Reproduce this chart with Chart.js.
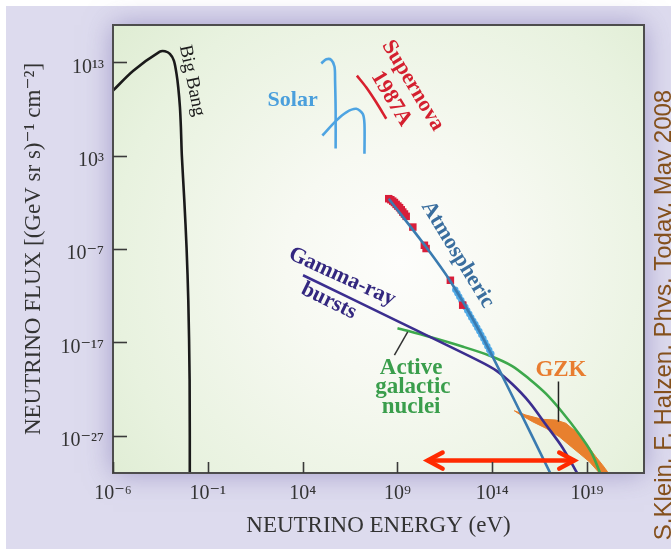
<!DOCTYPE html>
<html><head><meta charset="utf-8">
<script src="https://cdn.jsdelivr.net/npm/chart.js@4.4.1/dist/chart.umd.min.js"></script>
<style>html,body{margin:0;padding:0;background:#fff;}#wrap{width:671px;height:557px;position:relative;}</style>
</head><body><div id="wrap"><canvas id="c" width="671" height="557"></canvas></div>
<script>
// ---- data (log10 of energy in eV, log10 of flux) ----
const xTickExps = [-6, -1, 4, 9, 14, 19];
const yTickExps = [-27, -17, -7, 3, 13];

const bigBangE = [-6, -4.93, -3.53, -3.26, -3.0, -2.79, -2.65, -2.56, -2.47, -2.42, -2.37, -2.24, -2.12, -2.03, -1.96, -1.95];
const bigBangF = [9.97, 12.1, 14.14, 14.18, 13.9, 13.18, 11.76, 10.33, 8.19, 6.05, 3.02, -1.79, -6.92, -12.49, -21.0, -33];

const solarAE = [4.98, 5.25, 5.51, 5.68, 5.71, 5.74, 5.74];
const solarAF = [12.89, 13.32, 13.26, 12.54, 11.04, 7.83, 3.77];
const solarBE = [5.04, 5.77, 6.3, 6.83, 7.17, 7.26, 7.26];
const solarBF = [5.16, 6.76, 7.65, 8.02, 7.48, 6.41, 3.2];

const supernovaE = [6.86, 7.35, 7.88, 8.41];
const supernovaF = [11.58, 10.33, 8.72, 6.95];

const atmoE = [8.54, 10.51, 11.79, 13.32, 15.16, 17.15];
const atmoF = [-1.61, -6.79, -10.46, -15.8, -23.18, -31.4];
const atmoRedE = [8.54, 8.65, 8.75, 8.84, 8.93, 9.02, 9.11, 9.2, 9.28, 9.37, 9.46, 9.81, 10.42, 10.51, 11.79, 12.44];
const atmoRedF = [-1.61, -1.72, -1.87, -2.02, -2.22, -2.4, -2.57, -2.8, -3.04, -3.25, -3.5, -4.65, -6.6, -6.95, -10.35, -13.02];
const atmoBlueE = [12.05, 12.16, 12.26, 12.37, 12.47, 12.58, 12.68, 12.79, 12.89, 13.0, 13.11, 13.21, 13.32, 13.42, 13.53, 13.63, 13.74, 13.84, 13.95];
const atmoBlueF = [-11.37, -11.74, -12.11, -12.48, -12.85, -13.22, -13.59, -13.96, -14.33, -14.7, -15.06, -15.43, -15.8, -16.2, -16.59, -17.0, -17.41, -17.81, -18.21];

const grbE = [4.02, 9.11, 13.32, 14.21, 15.05, 15.95, 16.84, 17.68, 18.47, 18.55];
const grbF = [-9.81, -14.84, -19.01, -20.03, -21.47, -23.4, -25.86, -28.21, -30.99, -31.4];

const agnE = [9.0, 10.68, 12.42, 13.84, 15.05, 15.95, 16.84, 17.68, 18.58, 19.21, 19.68, 19.74];
const agnF = [-15.48, -16.41, -17.45, -18.41, -19.54, -20.93, -22.53, -24.46, -26.81, -28.73, -30.98, -31.4];

const gzkE = [15.16, 15.77, 16.65, 17.35, 17.88, 18.41, 18.93, 19.46, 19.81, 20.07, 20.15, 19.72, 19.63, 19.11, 18.58, 18.05, 17.53, 16.83, 16.12, 15.42, 15.16];
const gzkF = [-24.33, -24.79, -25.25, -25.32, -25.67, -26.57, -27.81, -29.25, -30.13, -30.85, -31.3, -31.3, -30.96, -29.78, -28.88, -27.99, -27.11, -26.21, -25.5, -24.68, -24.33];

const agnPointerE = [8.84, 9.54];
const agnPointerF = [-18.37, -15.87];
const gzkPointerE = [17.49, 17.49];
const gzkPointerF = [-21.2, -25.5];

const arrowE = [10.59, 18.32];
const arrowF = [-29.67, -29.67];
const arrowHeadLE = [11.38, 10.59, 11.38];
const arrowHeadRE = [17.53, 18.32, 17.53];
const arrowHeadF = [-28.81, -29.67, -30.53];

// ---- helpers ----
const SUP = {'-':'\u207B','0':'\u2070','1':'\u00B9','2':'\u00B2','3':'\u00B3','4':'\u2074','5':'\u2075','6':'\u2076','7':'\u2077','8':'\u2078','9':'\u2079'};
const pow10 = e => '10' + String(e).split('').map(c => SUP[c]).join('');
const pts = (E, F) => E.map((e, i) => ({x: e, y: F[i]}));
const SERIF = "'Liberation Serif', 'DejaVu Serif', serif";

const labels = [
  {t:'Big Bang', e:-1.84, f:11.04, rot:78.5, font:'19px '+SERIF, c:'#1c1c1c'},
  {t:'Solar', e:3.47, f:8.9, rot:0, font:'bold 22px '+SERIF, c:'#4a9fdc'},
  {t:'Supernova', e:9.81, f:10.51, rot:59, font:'bold 22px '+SERIF, c:'#d4202f'},
  {t:'1987A', e:8.67, f:9.09, rot:59, font:'bold 22px '+SERIF, c:'#d4202f'},
  {t:'Atmospheric', e:12.17, f:-7.59, rot:58.5, font:'bold 22px '+SERIF, c:'#3a6e9e'},
  {t:'Gamma-ray', e:6.08, f:-9.99, rot:24.5, font:'bold 22px '+SERIF, c:'#33277f'},
  {t:'bursts', e:5.38, f:-12.57, rot:26, font:'bold 22px '+SERIF, c:'#33277f'},
  {t:'Active', e:9.72, f:-19.75, rot:0, font:'bold 23px '+SERIF, c:'#3a9e4c'},
  {t:'galactic', e:9.81, f:-21.8, rot:0, font:'bold 23px '+SERIF, c:'#3a9e4c'},
  {t:'nuclei', e:9.72, f:-23.95, rot:0, font:'bold 23px '+SERIF, c:'#3a9e4c'},
  {t:'GZK', e:17.62, f:-19.96, rot:0, font:'bold 23px '+SERIF, c:'#e87d30'}
];

const bgPlugin = {
  id: 'bg',
  beforeDraw(chart) {
    const {ctx, chartArea: a, width, height} = chart;
    ctx.save();
    ctx.fillStyle = '#ffffff'; ctx.fillRect(0, 0, width, height);
    ctx.fillStyle = '#dddbee'; ctx.fillRect(6, 6, width - 6, 543);
    ctx.shadowColor = 'rgba(120,110,175,0.6)'; ctx.shadowBlur = 26;
    ctx.fillStyle = '#e4efda'; ctx.fillRect(a.left, a.top, a.width, a.height);
    ctx.shadowColor = 'transparent'; ctx.shadowBlur = 0;
    const cx = a.left + a.width * 0.54, cy = a.top + a.height * 0.53;
    const g = ctx.createRadialGradient(cx, cy, 0, cx, cy, 380);
    g.addColorStop(0, '#fdfdfb'); g.addColorStop(0.3, '#f7f9f2'); g.addColorStop(0.75, '#e8f2df'); g.addColorStop(1, '#deecd2');
    ctx.fillStyle = g; ctx.fillRect(a.left, a.top, a.width, a.height);
    ctx.restore();
  },
  afterDraw(chart) {
    const {ctx, chartArea: a, scales: {x, y}} = chart;
    ctx.save();
    labels.forEach(l => {
      ctx.save();
      ctx.translate(x.getPixelForValue(l.e), y.getPixelForValue(l.f));
      ctx.rotate(l.rot * Math.PI / 180);
      ctx.font = l.font; ctx.fillStyle = l.c; ctx.textAlign = 'center'; ctx.textBaseline = 'middle';
      ctx.fillText(l.t, 0, 0);
      ctx.restore();
    });
    ctx.strokeStyle = '#4d4d4d'; ctx.lineWidth = 2;
    ctx.strokeRect(a.left, a.top, a.width, a.height);
    ctx.strokeStyle = '#3a3a3a'; ctx.lineWidth = 1.6;
    xTickExps.forEach(v => { const px = Math.round(x.getPixelForValue(v)) + 0.5; ctx.beginPath(); ctx.moveTo(px, a.bottom); ctx.lineTo(px, a.bottom - 11); ctx.stroke(); });
    yTickExps.forEach(v => { const py = Math.round(y.getPixelForValue(v)) + 0.5; ctx.beginPath(); ctx.moveTo(a.left, py); ctx.lineTo(a.left + 14, py); ctx.stroke(); });
    ctx.save();
    ctx.translate(671, 315); ctx.rotate(-Math.PI / 2);
    ctx.font = "24px 'Liberation Sans', Arial, sans-serif"; ctx.fillStyle = '#84501c';
    ctx.textAlign = 'center'; ctx.textBaseline = 'alphabetic';
    ctx.fillText('S.Klein, F. Halzen, Phys. Today, May 2008', 0, 0);
    ctx.restore();
    ctx.restore();
  }
};

const lineDs = (label, E, F, color, width, order, extra) => Object.assign({
  label, data: pts(E, F), showLine: true, borderColor: color, backgroundColor: color,
  borderWidth: width, pointRadius: 0, tension: 0.3, fill: false, order
}, extra || {});

const datasets = [
  lineDs('GZK', gzkE, gzkF, '#e8802e', 1, 9, {fill: 'shape', backgroundColor: '#e8802e', tension: 0}),
  lineDs('Big Bang', bigBangE, bigBangF, '#1a1a1a', 2.6, 5),
  lineDs('Solar', solarAE, solarAF, '#4ea4e2', 2.6, 5),
  lineDs('Solar 2', solarBE, solarBF, '#4ea4e2', 2.6, 5),
  lineDs('Supernova 1987A', supernovaE, supernovaF, '#d8202e', 2.6, 5),
  lineDs('AGN', agnE, agnF, '#3da84c', 2.6, 6),
  lineDs('Gamma-ray bursts', grbE, grbF, '#3b2e8f', 2.6, 5),
  {label: 'Atmospheric data', data: pts(atmoRedE, atmoRedF), showLine: false, pointStyle: 'rect', pointRadius: 5.3, backgroundColor: '#d81e3a', borderColor: '#d81e3a', borderWidth: 0, order: 4},
  {label: 'Atmospheric data 2', data: pts(atmoBlueE, atmoBlueF), showLine: false, pointStyle: 'circle', pointRadius: 3.2, backgroundColor: '#4fa9e6', borderColor: '#4fa9e6', borderWidth: 0, order: 4},
  lineDs('Atmospheric', atmoE, atmoF, '#3a7bb0', 2.6, 3),
  lineDs('AGN pointer', agnPointerE, agnPointerF, '#333333', 1.5, 2, {tension: 0}),
  lineDs('GZK pointer', gzkPointerE, gzkPointerF, '#222222', 1.5, 2, {tension: 0}),
  lineDs('arrow', arrowE, arrowF, '#ff2a00', 4.5, 1, {tension: 0}),
  lineDs('arrow L', arrowHeadLE, arrowHeadF, '#ff2a00', 4.5, 1, {tension: 0, borderCapStyle: 'round'}),
  lineDs('arrow R', arrowHeadRE, arrowHeadF, '#ff2a00', 4.5, 1, {tension: 0, borderCapStyle: 'round'})
];

new Chart(document.getElementById('c'), {
  type: 'scatter',
  data: {datasets},
  plugins: [bgPlugin],
  options: {
    responsive: false, animation: false, devicePixelRatio: 1,
    layout: {padding: {top: 25, right: 27, left: 0, bottom: 0}},
    plugins: {legend: {display: false}, tooltip: {enabled: false}},
    scales: {
      x: {
        type: 'linear', min: -6, max: 22,
        afterBuildTicks: s => { s.ticks = xTickExps.map(v => ({value: v})); },
        afterFit: s => { s.height = 84; },
        grid: {display: false, drawTicks: false}, border: {display: false},
        ticks: {autoSkip: false, maxRotation: 0, padding: 9, color: '#333', font: {family: SERIF, size: 20}, callback: v => pow10(v)},
        title: {display: true, text: 'NEUTRINO ENERGY (eV)', color: '#333', font: {family: SERIF, size: 23}, padding: {top: 0, bottom: 17}}
      },
      y: {
        type: 'linear', min: -31, max: 17,
        afterBuildTicks: s => { s.ticks = yTickExps.map(v => ({value: v})); },
        afterFit: s => { s.width = 113; },
        grid: {display: false, drawTicks: false}, border: {display: false},
        ticks: {autoSkip: false, padding: 9, labelOffset: 5, color: '#333', font: {family: SERIF, size: 20}, callback: v => pow10(v)},
        title: {display: true, text: 'NEUTRINO FLUX [(GeV sr s)\u207B\u00B9 cm\u207B\u00B2]', color: '#333', font: {family: SERIF, size: 23}, padding: {top: 20, bottom: 0}}
      }
    }
  }
});
</script></body></html>
